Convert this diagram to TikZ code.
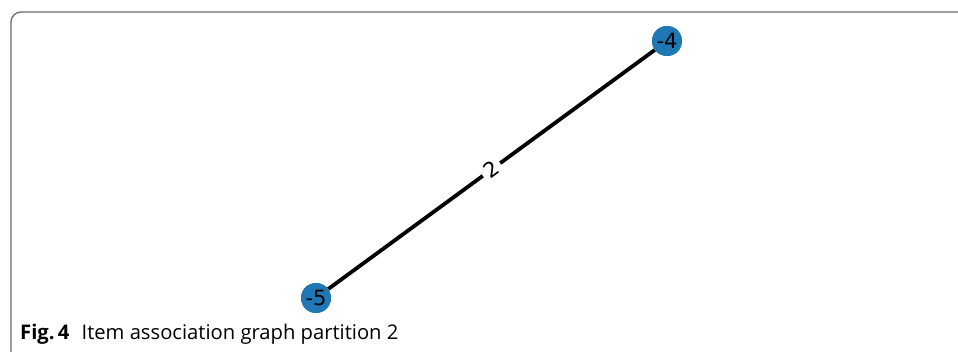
\documentclass[tikz,border=0pt]{standalone}
\usepackage{fontspec}
\setmainfont{Open Sans}
\newfontfamily\lblfont{DejaVu Sans}
\definecolor{nodeblue}{HTML}{1F78B4}
\definecolor{framegray}{HTML}{707070}
\begin{document}
\begin{tikzpicture}[x=1pt,y=-1pt,
  vertex/.style={circle,fill=nodeblue,draw=none,minimum size=30pt,inner sep=0pt,font=\lblfont\fontsize{21}{21}\selectfont},
  edgelbl/.style={fill=white,inner sep=4pt,font=\lblfont\fontsize{21}{21}\selectfont,sloped},
  link/.style={line width=3.8pt,black}]
\useasboundingbox (0,0) rectangle (958,352);
\draw[framegray,line width=1.4pt,rounded corners=10pt] (11,354) -- (11,12) -- (960,12);
\node[vertex] (a) at (316,298) {-5};
\node[vertex] (b) at (667,41) {-4};
\draw[link] (a) -- node[edgelbl] {2} (b);
\node[vertex] at (316,298) {-5};
\node[vertex] at (667,41) {-4};
\node[anchor=base west,inner sep=0pt,font=\fontsize{20.2}{20.2}\selectfont] (cap) at (20,340) {\textbf{Fig.\,4}\hspace{0.6em}Item association graph partition 2};
\end{tikzpicture}
\end{document}
